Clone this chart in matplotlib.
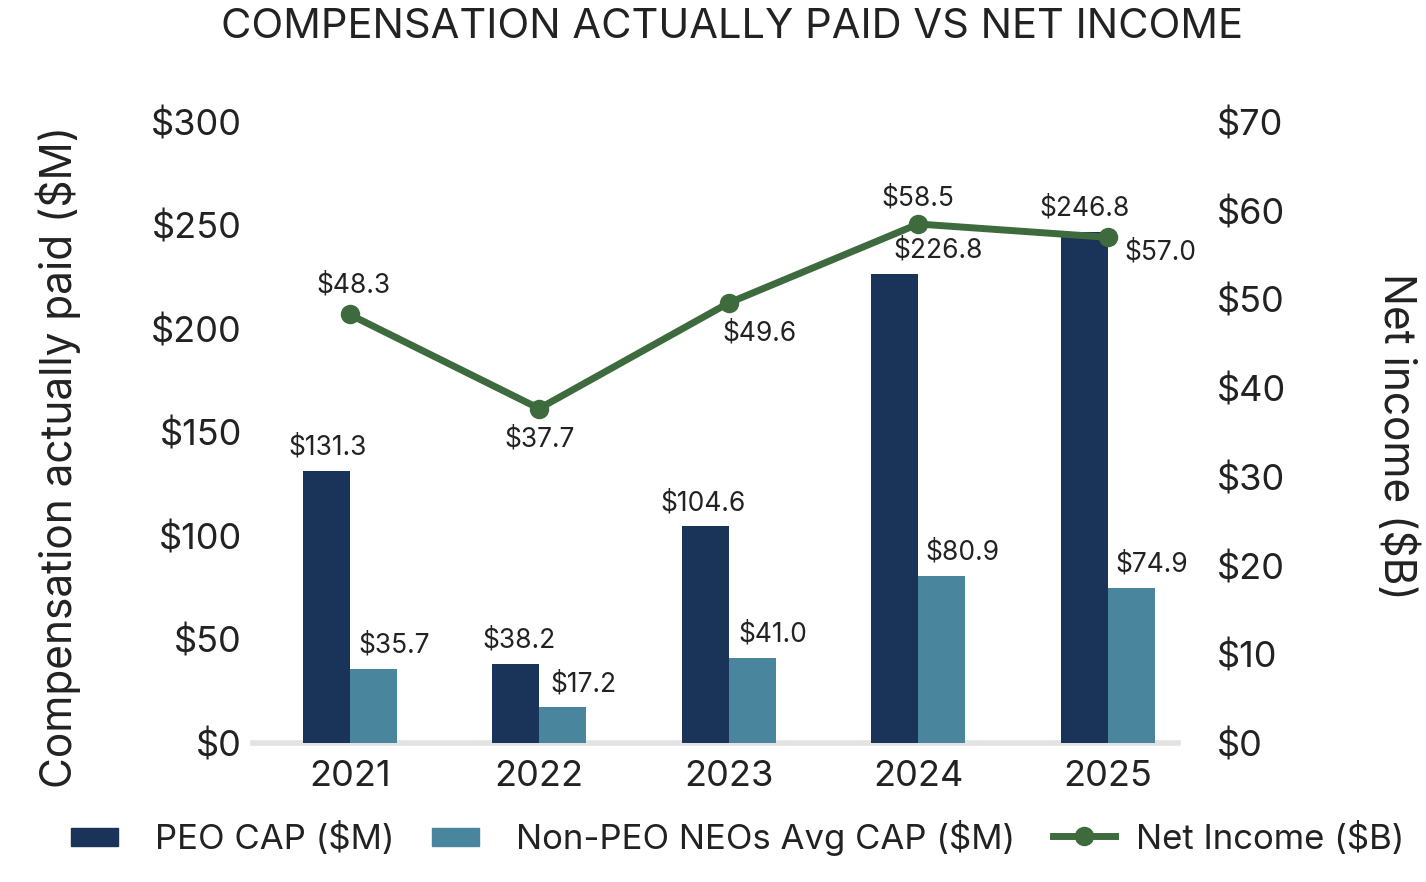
import matplotlib
matplotlib.use("Agg")
import matplotlib.pyplot as plt
import numpy as np
from matplotlib.lines import Line2D
from matplotlib.patches import Patch, Rectangle
from matplotlib.legend_handler import HandlerPatch

years = ["2021", "2022", "2023", "2024", "2025"]
peo_cap = [131.3, 38.2, 104.6, 226.8, 246.8]
neo_cap = [35.7, 17.2, 41.0, 80.9, 74.9]
net_income = [48.3, 37.7, 49.6, 58.5, 57.0]
left_ticks = [0, 50, 100, 150, 200, 250, 300]
right_ticks = [0, 10, 20, 30, 40, 50, 60, 70]

c_peo = "#1a3358"
c_neo = "#4a859e"
c_line = "#3e6b3d"
txt = "#222222"

plt.rcParams['font.family'] = ['Inter', 'DejaVu Sans']

fig = plt.figure(figsize=(14.26, 8.82), dpi=100)
ax = fig.add_axes([0.1774, 0.1576, 0.6486, 0.7041])
ax2 = ax.twinx()

x = np.arange(len(years))
w = 0.248
ax.bar(x - w/2, peo_cap, w, color=c_peo, zorder=2)
ax.bar(x + w/2, neo_cap, w, color=c_neo, zorder=2)

ax.set_xlim(-0.51, 4.37)
ax.set_ylim(0, 300)
ax2.set_ylim(0, 70)
ax.set_yticks(left_ticks)
ax.set_yticklabels([f"${v}" for v in left_ticks])
ax2.set_yticks(right_ticks)
ax2.set_yticklabels([f"${v}" for v in right_ticks])
ax.set_xticks(x)
ax.set_xticklabels(years)

for a in (ax, ax2):
    for s in a.spines.values():
        s.set_visible(False)
    a.tick_params(length=0, labelsize=26, colors=txt)
ax.tick_params(axis='y', pad=8)
ax2.tick_params(axis='y', pad=28)
ax.tick_params(axis='x', pad=12)
ax.axhline(0, color="#e3e3e3", lw=4, zorder=1, clip_on=False)

peo_dx = [0.01, 0.02, -0.01, 0.23, 0.0]
neo_dx = [0.11, 0.11, 0.11, 0.11, 0.11]
for xi, v, dx in zip(x, peo_cap, peo_dx):
    ax.text(xi - w/2 + dx, v + 5, f"${v:.1f}", ha='center', va='bottom', fontsize=19, color=txt)
for xi, v, dx in zip(x, neo_cap, neo_dx):
    ax.text(xi + w/2 + dx, v + 5, f"${v:.1f}", ha='center', va='bottom', fontsize=19, color=txt)

ax2.plot(x, net_income, color=c_line, lw=5, marker='o', ms=13, zorder=3)
offsets = [(0.02, 1.8, 'center', 'bottom'), (0, -2.0, 'center', 'top'),
           (0.16, -2.0, 'center', 'top'), (0, 1.4, 'center', 'bottom'),
           (0.09, -0.2, 'left', 'top')]
for xi, v, (dx, dy, ha, va) in zip(x, net_income, offsets):
    ax2.text(xi + dx, v + dy, f"${v:.1f}", ha=ha, va=va, fontsize=19, color=txt)

fig.text(0.513, 0.969, "COMPENSATION ACTUALLY PAID VS NET INCOME", ha='center', va='center',
         fontsize=30, color=txt)
fig.text(0.041, 0.482, "Compensation actually paid ($M)", rotation=90, ha='center', va='center',
         fontsize=30.5, color=txt)
fig.text(0.979, 0.505, "Net income ($B)", rotation=270, ha='center', va='center',
         fontsize=30.5, color=txt)


def small_rect(legend, orig_handle, xdescent, ydescent, width, height, fontsize):
    pw = width * 0.74
    ph = height * 0.62
    return Rectangle((-xdescent, -ydescent + (height - ph) / 2), pw, ph)


handles = [Patch(color=c_peo), Patch(color=c_neo),
           Line2D([0], [0], color=c_line, lw=5, marker='o', ms=13)]
labels = ["PEO CAP ($M)", "Non-PEO NEOs Avg CAP ($M)", "Net Income ($B)"]
fig.legend(handles, labels, loc='center', bbox_to_anchor=(0.5175, 0.05), ncol=3, frameon=False,
           fontsize=25, handlelength=1.8, handleheight=0.9, columnspacing=1.1, handletextpad=0.6,
           labelcolor=txt, handler_map={Patch: HandlerPatch(patch_func=small_rect)})

fig.savefig("out.png", dpi=100)
